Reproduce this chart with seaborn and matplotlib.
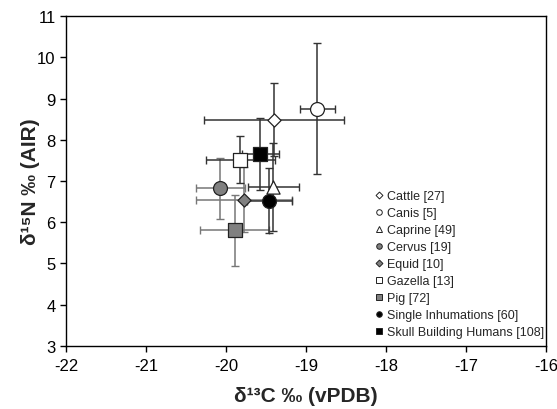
import matplotlib
matplotlib.use("Agg")
import matplotlib.pyplot as plt
import seaborn as sns
import pandas as pd
from matplotlib.lines import Line2D

# values
groups = ['Cattle [27]', 'Canis [5]', 'Caprine [49]', 'Cervus [19]', 'Equid [10]',
          'Gazella [13]', 'Pig [72]', 'Single Inhumations [60]', 'Skull Building Humans [108]']
d13c = [-19.40, -18.86, -19.41, -20.07, -19.78, -19.82, -19.89, -19.46, -19.57]
d15n = [8.49, 8.75, 6.85, 6.82, 6.55, 7.52, 5.80, 6.52, 7.65]
c_err = [0.88, 0.22, 0.32, 0.31, 0.60, 0.43, 0.43, 0.28, 0.23]
n_err = [0.89, 1.59, 1.06, 0.73, 0.78, 0.56, 0.85, 0.79, 0.88]

markers = ['D', 'o', '^', 'o', 'D', 's', 's', 'o', 's']
fills = ['white', 'white', 'white', 'gray', 'gray', 'white', 'gray', 'black', 'black']
sizes = [45, 100, 90, 100, 45, 100, 100, 100, 100]

df = pd.DataFrame({'group': groups, 'd13c': d13c, 'd15n': d15n,
                   'c_err': c_err, 'n_err': n_err})

sns.set_style("ticks")
plt.rcParams['font.family'] = ['Liberation Sans', 'DejaVu Sans']
plt.rcParams['axes.unicode_minus'] = False

fig = plt.figure(figsize=(5.57, 4.10), dpi=100)
ax = fig.add_axes([0.1185, 0.1537, 0.8615, 0.8048])

handles = []
for i, row in df.iterrows():
    bar_col = '#777777' if fills[i] == 'gray' else '#333333'
    ax.errorbar(row['d13c'], row['d15n'], xerr=row['c_err'], yerr=row['n_err'],
                fmt='none', ecolor=bar_col, elinewidth=1.1, capsize=3, capthick=1, zorder=2)
    sns.scatterplot(x=[row['d13c']], y=[row['d15n']], marker=markers[i], s=sizes[i],
                    color=fills[i], edgecolor='#222222', linewidth=0.9, ax=ax, zorder=3)
    handles.append(Line2D([], [], linestyle='none', marker=markers[i],
                          markersize=4 if markers[i] != 'D' else 3.5,
                          markerfacecolor=fills[i], markeredgecolor='#222222',
                          markeredgewidth=0.7, label=row['group']))

ax.set_xlim(-22, -16)
ax.set_ylim(3, 11)
ax.set_xticks(range(-22, -15))
ax.set_yticks(range(3, 12))
ax.tick_params(labelsize=12, length=4, width=1, color='black', labelcolor='black')
ax.tick_params(axis='x', pad=5)
for s in ax.spines.values():
    s.set_color('black')
    s.set_linewidth(1)

ax.set_xlabel('δ¹³C ‰ (vPDB)', fontsize=15, fontweight='bold', labelpad=9)
ax.set_ylabel('δ¹⁵N ‰ (AIR)', fontsize=15, fontweight='bold', labelpad=-2)

ax.legend(handles=handles, loc='lower right', bbox_to_anchor=(1.012, 0.0),
          frameon=False, fontsize=9, handlelength=0.6, handletextpad=0.3,
          labelspacing=0.4, borderaxespad=0.2)

fig.savefig('out.png', dpi=100)
